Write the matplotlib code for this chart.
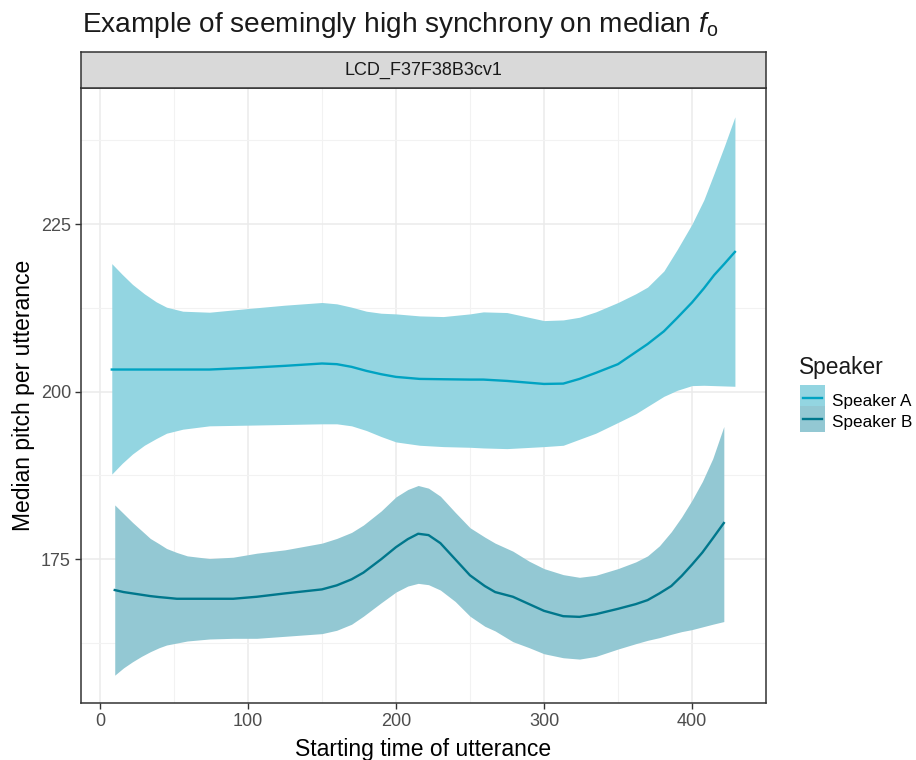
import matplotlib
matplotlib.use("Agg")
import matplotlib.pyplot as plt
from matplotlib.patches import Rectangle
from matplotlib.lines import Line2D

plt.rcParams['font.family'] = ['Liberation Sans', 'DejaVu Sans']
plt.rcParams['mathtext.fontset'] = 'custom'
plt.rcParams['mathtext.rm'] = 'Liberation Sans'
plt.rcParams['mathtext.it'] = 'Liberation Sans:italic'

# Speaker A smooth + ribbon
a_x = [8, 15, 22, 30, 38, 45, 56, 74, 100, 125, 150, 160, 170, 180, 190, 200, 216, 232, 250, 259, 275,
       300, 313, 324, 335, 350, 362, 370, 381, 390, 400, 408, 415, 422, 429]
a_fit = [203.3, 203.3, 203.3, 203.3, 203.3, 203.3, 203.3, 203.3, 203.55, 203.85, 204.2, 204.1, 203.7,
         203.1, 202.6, 202.2, 201.9, 201.85, 201.8, 201.8, 201.6, 201.15, 201.2, 201.9, 202.8, 204.1,
         205.9, 207.1, 209.0, 211.0, 213.3, 215.4, 217.4, 219.1, 220.85]
a_hi = [219.1, 217.5, 216.0, 214.6, 213.4, 212.6, 212.0, 211.85, 212.4, 212.9, 213.3, 213.1, 212.6,
        212.0, 211.7, 211.6, 211.3, 211.2, 211.6, 211.9, 211.8, 210.6, 210.7, 211.1, 211.9, 213.3, 214.6,
        215.6, 218.0, 221.2, 225.0, 228.6, 232.6, 236.7, 241.0]
a_lo = [187.7, 189.3, 190.7, 192.0, 193.0, 193.8, 194.4, 194.9, 195.0, 195.1, 195.2, 195.2, 194.9,
        194.2, 193.3, 192.5, 192.0, 191.8, 191.7, 191.6, 191.5, 191.8, 192.0, 192.9, 193.8, 195.4, 196.7,
        197.8, 199.3, 200.2, 200.9, 200.95, 200.9, 200.85, 200.8]

# Speaker B smooth + ribbon
b_x = [10, 16, 22, 28, 34, 40, 45, 52, 59, 74, 90, 106, 125, 150, 160, 170, 178, 190, 200, 208, 215,
       222, 230, 240, 250, 260, 267, 279, 290, 300, 313, 324, 335, 350, 362, 370, 378, 386, 393, 400,
       407, 414, 421.5]
b_fit = [170.4, 170.1, 169.9, 169.7, 169.5, 169.35, 169.25, 169.1, 169.1, 169.1, 169.1, 169.4, 169.9,
         170.5, 171.1, 172.0, 173.0, 175.0, 176.8, 178.0, 178.8, 178.6, 177.4, 175.0, 172.6, 171.0,
         170.1, 169.4, 168.3, 167.3, 166.5, 166.4, 166.8, 167.6, 168.3, 168.9, 169.9, 171.0, 172.5,
         174.2, 176.0, 178.1, 180.4]
b_hi = [183.1, 181.8, 180.5, 179.3, 178.1, 177.3, 176.6, 176.0, 175.5, 175.1, 175.3, 175.9, 176.4,
        177.4, 178.1, 179.0, 180.1, 182.2, 184.3, 185.4, 186.0, 185.6, 184.4, 182.0, 179.7, 178.3,
        177.4, 176.2, 174.7, 173.6, 172.7, 172.3, 172.6, 173.6, 174.6, 175.5, 177.0, 179.1, 181.3,
        183.8, 186.6, 190.0, 194.8]
b_lo = [157.7, 158.8, 159.7, 160.5, 161.2, 161.8, 162.2, 162.5, 162.8, 163.1, 163.2, 163.2, 163.5,
        163.9, 164.4, 165.3, 166.5, 168.5, 170.1, 171.0, 171.4, 171.2, 170.4, 168.7, 166.5, 165.0,
        164.3, 162.7, 161.8, 160.9, 160.3, 160.1, 160.5, 161.6, 162.4, 162.9, 163.3, 163.8, 164.2,
        164.5, 164.9, 165.3, 165.7]

col_a, fill_a = '#00a3c2', '#93d5e1'
col_b, fill_b = '#00778c', '#93c8d3'


class KeyHandler:
    # ggplot-like key: filled box covering the whole row, short line through the middle
    def legend_artist(self, legend, orig_handle, fontsize, handlebox):
        fill, col = orig_handle
        x0, y0 = handlebox.xdescent, handlebox.ydescent
        w, h = handlebox.width, handlebox.height
        r = Rectangle((-x0, -y0), w, h + y0, facecolor=fill, edgecolor='none',
                      transform=handlebox.get_transform())
        ym = -y0 + (h + y0) / 2
        ln = Line2D([-x0 + 0.12 * w, -x0 + 0.88 * w], [ym, ym], color=col, lw=1.7,
                    transform=handlebox.get_transform())
        handlebox.add_artist(r)
        handlebox.add_artist(ln)
        return r


fig = plt.figure(figsize=(9.16, 7.6), dpi=100)
W, H = 916, 760
L, R, T, B = 80.7, 766, 88, 703
ax = fig.add_axes([L / W, 1 - B / H, (R - L) / W, (B - T) / H])

ax.fill_between(a_x, a_lo, a_hi, color=fill_a, lw=0, zorder=2)
ax.fill_between(b_x, b_lo, b_hi, color=fill_b, lw=0, zorder=2)
ax.plot(a_x, a_fit, color=col_a, lw=1.7, zorder=3)
ax.plot(b_x, b_fit, color=col_b, lw=1.7, zorder=3)

ax.set_xlim(-13, 450)
ax.set_ylim(153.55, 245.3)
ax.set_xticks([0, 100, 200, 300, 400])
ax.set_xticks([50, 150, 250, 350, 450], minor=True)
ax.set_yticks([175, 200, 225])
ax.set_yticks([162.5, 187.5, 212.5, 237.5], minor=True)
ax.grid(which='major', color='#ebebeb', lw=1.1, zorder=0)
ax.grid(which='minor', color='#f2f2f2', lw=0.8, zorder=0)
ax.set_axisbelow(True)
ax.tick_params(which='major', length=4, width=1, color='#333333', labelsize=13, labelcolor='#4d4d4d', pad=3)
ax.tick_params(which='minor', length=0)
for s in ax.spines.values():
    s.set_color('#333333')
    s.set_linewidth(1.1)

ax.set_xlabel('Starting time of utterance', fontsize=16.5, labelpad=6)
ax.set_ylabel('Median pitch per utterance', fontsize=16.5, labelpad=4)

# facet strip
sax = fig.add_axes([L / W, 1 - T / H, (R - L) / W, 36 / H])
sax.set_facecolor('#d9d9d9')
sax.set_xticks([])
sax.set_yticks([])
for s in sax.spines.values():
    s.set_color('#333333')
    s.set_linewidth(1.1)
sax.text(0.5, 0.5, 'LCD_F37F38B3cv1', ha='center', va='center', fontsize=13, color='#1a1a1a',
         transform=sax.transAxes)

fig.text(82 / W, 1 - 25 / H, r'Example of seemingly high synchrony on median $f_\mathregular{o}$',
         fontsize=20.2, ha='left', va='center', color='#1a1a1a')

# legend
fig.text(799 / W, 1 - 368 / H, 'Speaker', fontsize=16.4, ha='left', va='center', color='#1a1a1a')
keys = [(fill_a, col_a), (fill_b, col_b)]
fig.legend(keys, ['Speaker A', 'Speaker B'], handler_map={tuple: KeyHandler()}, loc='upper left',
           bbox_to_anchor=(800 / W, 1 - 390 / H), frameon=False, fontsize=12.3,
           handlelength=1.45, handleheight=1.5, labelspacing=0.0, handletextpad=0.45,
           borderaxespad=0, borderpad=0)

fig.savefig('out.png', dpi=100)
